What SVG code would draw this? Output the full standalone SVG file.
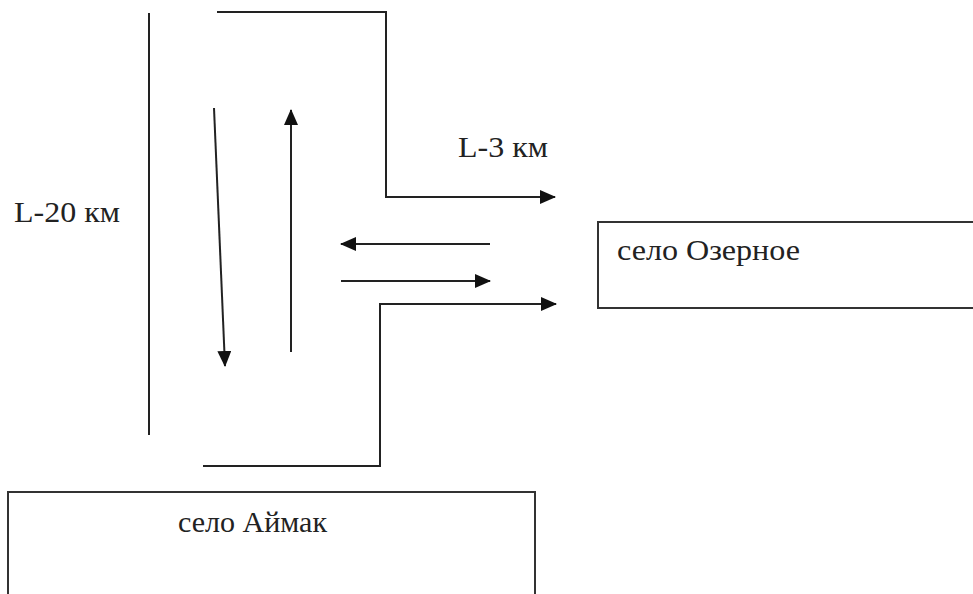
<svg xmlns="http://www.w3.org/2000/svg" width="973" height="594" viewBox="0 0 973 594">
<style>
.ln{fill:none;stroke:#222;stroke-width:2}
.bx{fill:#fff;stroke:#333;stroke-width:2}
.t{font-family:"Liberation Serif","Times New Roman",serif;font-size:30px;fill:#222}
</style>
<defs>
<marker id="ah" markerWidth="16" markerHeight="14" refX="15" refY="7" orient="auto" markerUnits="userSpaceOnUse">
<path d="M0,0 L16,7 L0,14 Z" fill="#111"/>
</marker>
</defs>
<rect width="973" height="594" fill="#fff"/>
<g id="connectors">
<line class="ln" x1="149" y1="13" x2="149" y2="435"/>
<polyline class="ln" points="217,12 386,12 386,197 555,197" marker-end="url(#ah)"/>
<line class="ln" x1="214" y1="108" x2="225" y2="366" marker-end="url(#ah)"/>
<line class="ln" x1="291" y1="352" x2="291" y2="110" marker-end="url(#ah)"/>
<line class="ln" x1="490" y1="244" x2="341" y2="244" marker-end="url(#ah)"/>
<line class="ln" x1="341" y1="281" x2="490" y2="281" marker-end="url(#ah)"/>
<polyline class="ln" points="203,466 380,466 380,304 556,304" marker-end="url(#ah)"/>
</g>
<g id="label-l3"><text class="t" x="458" y="157" textLength="90" lengthAdjust="spacingAndGlyphs">L-3 км</text></g>
<g id="label-l20"><text class="t" x="14" y="222" textLength="106" lengthAdjust="spacingAndGlyphs">L-20 км</text></g>
<g id="node-ozernoe">
<rect class="bx" x="598" y="222" width="380" height="86"/>
<text class="t" x="617" y="260" textLength="183" lengthAdjust="spacingAndGlyphs">село Озерное</text>
</g>
<g id="node-aimak">
<rect class="bx" x="8" y="492" width="527" height="110"/>
<text class="t" x="178" y="532" textLength="149" lengthAdjust="spacingAndGlyphs">село Аймак</text>
</g>
</svg>
